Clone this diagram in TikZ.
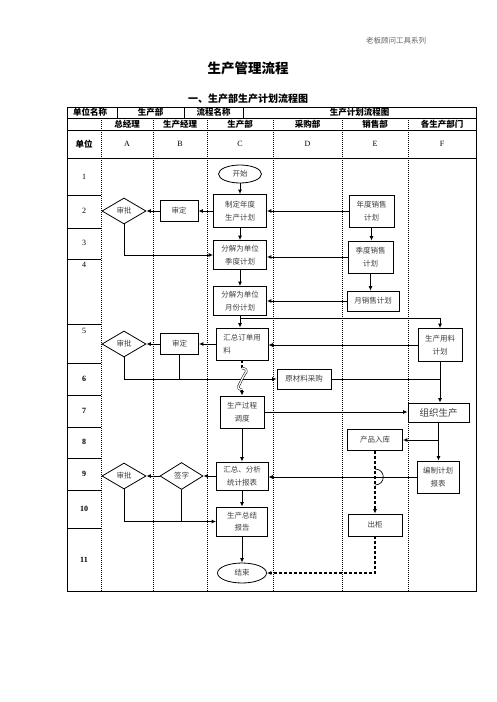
\documentclass[tikz,border=0pt]{standalone}
\usepackage{fontspec}
\setmainfont{Liberation Serif}
\newfontfamily\cjk{Noto Sans CJK SC}
\usepackage{tikz}
\usetikzlibrary{shapes.geometric,arrows.meta,positioning,calc}

\begin{document}
\begin{tikzpicture}[
  x=1pt, y=-1pt,
  >={Latex[length=4.5pt,width=4pt]},
  box/.style={draw, line width=0.8pt, align=center, inner sep=1pt, text=black!75, font=\cjk\fontsize{7.5}{12.5}\selectfont},
  dia/.style={draw, diamond, line width=0.8pt, inner sep=0pt, minimum width=44pt, minimum height=26pt, text=black!75, font=\cjk\fontsize{7.5}{9}\selectfont},
  term/.style={draw, ellipse, line width=0.8pt, inner sep=0pt, text=black!75, font=\cjk\fontsize{7.5}{9}\selectfont},
  head/.style={font=\cjk\bfseries\fontsize{8.5}{10}\selectfont},
  rowno/.style={font=\fontsize{8}{10}\selectfont},
  grid/.style={line width=0.7pt, dash pattern=on 1pt off 1pt},
  line/.style={line width=0.9pt},
  dline/.style={line width=1.1pt, dash pattern=on 3pt off 2pt},
  hop/.style={line width=0.5pt, double, double distance=1.3pt}
]
\fill[white] (0,0) rectangle (496,702);

\node[text=black!60, font=\cjk\fontsize{7.5}{9}\selectfont] (series) at (396,41) {老板顾问工具系列};
\node[font=\cjk\bfseries\fontsize{13.5}{16}\selectfont] (title) at (248,68) {生产管理流程};
\node[font=\cjk\bfseries\fontsize{10}{12}\selectfont] (subtitle) at (248,99) {一、生产部生产计划流程图};

\draw[line width=0.9pt] (67,107) rectangle (476,591);
\draw[line width=0.9pt] (67,118) -- (476,118) (67,130) -- (476,130) (67,158) -- (476,158);
\draw[line width=0.9pt] (117,107) -- (117,118) (184,107) -- (184,118) (243,107) -- (243,118);
\draw[grid] (101,118) -- (101,591) (153,118) -- (153,591) (207,118) -- (207,591)
  (273,118) -- (273,591) (342,118) -- (342,591) (408,118) -- (408,591);
\draw[line width=0.9pt] (67,195) -- (101,195) (67,228) -- (101,228) (67,259) -- (101,259)
  (67,324) -- (101,324) (67,363) -- (101,363) (67,395) -- (101,395) (67,427) -- (101,427)
  (67,458) -- (101,458) (67,490) -- (101,490) (67,528) -- (101,528);

\node[head] (unitname) at (90,112.5) {单位名称};
\node[head] (unitval) at (150.5,112.5) {生产部};
\node[head] (flowname) at (213.5,112.5) {流程名称};
\node[head] (flowval) at (359.5,112.5) {生产计划流程图};
\node[head] (colA) at (127,124) {总经理};
\node[head] (colB) at (180,124) {生产经理};
\node[head] (colC) at (240,124) {生产部};
\node[head] (colD) at (307.5,124) {采购部};
\node[head] (colE) at (375,124) {销售部};
\node[head] (colF) at (442,124) {各生产部门};
\node[head] (unit) at (84,144) {单位};
\node[rowno] (letA) at (127,144) {A};
\node[rowno] (letB) at (180,144) {B};
\node[rowno] (letC) at (240,144) {C};
\node[rowno] (letD) at (307.5,144) {D};
\node[rowno] (letE) at (375,144) {E};
\node[rowno] (letF) at (442,144) {F};

\node[rowno] (r1) at (84,177) {1};
\node[rowno] (r2) at (84,211) {2};
\node[rowno] (r3) at (84,243) {3};
\node[rowno] (r4) at (84,265) {4};
\node[rowno] (r5) at (84,331) {5};
\node[rowno, font=\bfseries\fontsize{8}{10}\selectfont] (r6) at (84,379) {6};
\node[rowno, font=\bfseries\fontsize{8}{10}\selectfont] (r7) at (84,411) {7};
\node[rowno, font=\bfseries\fontsize{8}{10}\selectfont] (r8) at (84,442) {8};
\node[rowno, font=\bfseries\fontsize{8}{10}\selectfont] (r9) at (84,474) {9};
\node[rowno, font=\bfseries\fontsize{8}{10}\selectfont] (r10) at (84,509) {10};
\node[rowno, font=\bfseries\fontsize{8}{10}\selectfont] (r11) at (84,560) {11};

\node[term, minimum width=43pt, minimum height=18pt] (ks) at (240,174) {开始};
\node[box, minimum width=53pt, minimum height=33pt] (zd) at (240,211) {制定年度\\生产计划};
\node[box, minimum width=38pt, minimum height=21pt] (sd1) at (179,211) {审定};
\node[dia] (sp1) at (124,211) {审批};
\node[box, minimum width=53pt, minimum height=29pt] (fj1) at (240,255) {分解为单位\\季度计划};
\node[box, minimum width=53pt, minimum height=29pt] (yf) at (240,301) {分解为单位\\月份计划};
\node[box, minimum width=45pt, minimum height=32pt] (nd) at (371.5,211) {年度销售\\计划};
\node[box, minimum width=45pt, minimum height=32pt] (jd) at (370.5,257) {季度销售\\计划};
\node[box, minimum width=52pt, minimum height=20pt] (yxs) at (373,301) {月销售计划};

\node[box, align=left, minimum width=52pt, minimum height=32pt] (hz) at (242,344) {汇总订单用\\料};
\node[box, minimum width=38pt, minimum height=21pt] (sd2) at (179.5,344) {审定};
\node[dia] (sp2) at (124,344) {审批};
\node[box, minimum width=44pt, minimum height=33pt] (ylj) at (440,345) {生产用料\\计划};
\node[box, minimum width=54pt, minimum height=20pt] (ycl) at (304,379) {原材料采购};
\node[box, minimum width=44pt, minimum height=32pt] (dd) at (242,412) {生产过程\\调度};
\node[box, minimum width=61pt, minimum height=19pt, font=\cjk\fontsize{9.5}{11}\selectfont] (zz) at (438.5,412.5) {组织生产};
\node[box, minimum width=55pt, minimum height=21pt] (rk) at (375,440) {产品入库};

\node[box, minimum width=52pt, minimum height=28pt] (hz2) at (242,476) {汇总、分析\\统计报表};
\node[dia, minimum width=43pt, minimum height=27pt] (qz) at (181.5,476) {签字};
\node[dia] (sp3) at (124,476) {审批};
\node[box, minimum width=42pt, minimum height=32pt] (bj) at (438,477) {编制计划\\报表};
\node[box, minimum width=51pt, minimum height=29pt] (zj) at (242,521.5) {生产总结\\报告};
\node[box, minimum width=54pt, minimum height=22pt] (cg) at (375,525) {出柜};
\node[term, minimum width=49pt, minimum height=20pt] (js) at (242,573) {结束};

\draw[line,->] (ks.south) -- (zd.north);
\draw[line,->] (zd.west) -- (sd1.east);
\draw[line,->] (sd1.west) -- (sp1.east);
\draw[line,->] (sp1.south) |- (fj1.west);
\draw[line,->] (zd.south) -- (fj1.north);
\draw[line,->] (fj1.south) -- (yf.north);
\draw[line,->] (nd.west) -- (nd.west -| zd.east);
\draw[line,->] (nd.south) -- (nd.south |- jd.north);
\draw[line,->] (jd.west) -- (jd.west -| fj1.east);
\draw[line,->] (jd.south) -- (jd.south |- yxs.north);
\draw[line,->] (yxs.west) -- (yxs.west -| yf.east);
\draw[line,->] (yf.south) -- (yf.south |- hz.north);
\draw[line,->] ($(yf.south)+(0,3)$) -| (ylj.north);

\draw[line,->] (ylj.west) -- (ylj.west -| hz.east);
\draw[line,->] (hz.west) -- (sd2.east);
\draw[line,->] (sd2.west) -- (sp2.east);
\draw[line,->] (sp2.south) |- (ycl.west);
\draw[line] (sd2.south) -- (sd2.south |- ycl.west);
\draw[dline] (hz.south) -- ($(hz.south |- ycl.west)+(0,-11)$);
\draw[hop] ($(hz.south |- ycl.west)+(0,-11)$) .. controls +(9,2) and +(2,-6) .. (hz.south |- ycl.west)
  .. controls +(-2,6) and +(-7,-2) .. ($(hz.south |- ycl.west)+(0,11)$);
\draw[dline,->] ($(hz.south |- ycl.west)+(0,11)$) -- (dd.north);
\draw[line] (ycl.east) -- (ycl.east -| ylj.south);
\draw[line,->] (ylj.south) -- (ylj.south |- zz.north);
\draw[line,->] (dd.east) -- (dd.east -| zz.west);
\draw[line,->] (zz.south |- rk.east) -- (rk.east);
\draw[line,->] (zz.south) -- (zz.south |- bj.north);
\draw[line,->] (dd.south) -- (hz2.north);

\draw[line,->] (bj.west) -- (bj.west -| hz2.east);
\draw[line,->] (hz2.west) -- (qz.east);
\draw[line,->] (qz.west) -- (sp3.east);
\draw[line,->] (sp3.south) |- (zj.west);
\draw[line] (qz.south) -- (qz.south |- zj.west);
\draw[line,->] (hz2.south) -- (zj.north);
\draw[line,->] (zj.south) -- (js.north);
\draw[dline,->] (rk.south) -- (cg.north);
\draw[line width=0.7pt] ($(rk.south |- bj.west)+(0,-8)$) .. controls +(11,0) and +(11,0) .. ($(rk.south |- bj.west)+(0,8)$);
\draw[dline,->] (cg.south) |- (js.east);
\end{tikzpicture}
\end{document}
